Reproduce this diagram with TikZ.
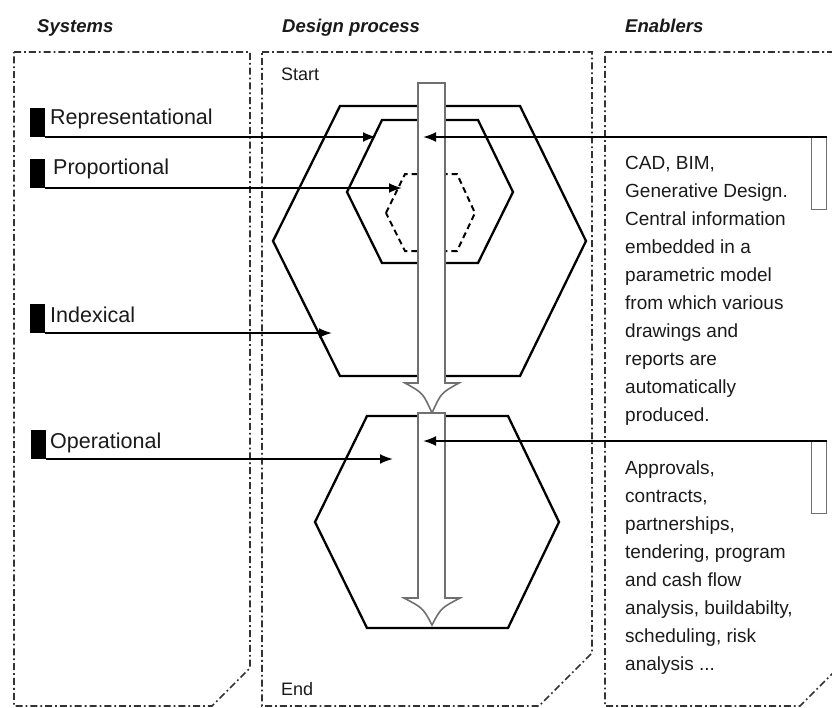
\documentclass[tikz,border=0pt]{standalone}
\usepackage{fontspec}
\setmainfont{Liberation Sans}
\usetikzlibrary{arrows.meta}
\definecolor{ink}{HTML}{1A1A1A}
\definecolor{frame}{HTML}{333333}
\definecolor{shaft}{HTML}{707070}
\begin{document}
\begin{tikzpicture}[x=1pt,y=-1pt,
  panel/.style={draw=frame, line width=1.6pt, dash pattern=on 7pt off 3pt on 1.8pt off 3pt},
  hexline/.style={draw=black, line width=2.3pt, line join=miter},
  dashhex/.style={hexline, line width=2pt, dash pattern=on 6pt off 4pt},
  flow/.style={draw=shaft, line width=1.6pt, fill=white, line join=miter},
  conn/.style={draw=black, line width=2pt, -{Latex[length=13pt,width=10pt]}},
  marker/.style={fill=black, draw=none, minimum width=15pt, minimum height=29pt, inner sep=0pt, anchor=south west},
  tab/.style={draw=shaft, line width=1.3pt, fill=white, minimum width=15pt, minimum height=72pt, inner sep=0pt, anchor=north east},
  heading/.style={font=\fontsize{18.5}{22}\selectfont\bfseries\itshape, text=ink, inner sep=0pt, anchor=base west},
  label/.style={font=\fontsize{21.5}{24}\selectfont, text=ink, inner sep=0pt, anchor=base west},
  endpoint/.style={font=\fontsize{18}{22}\selectfont, text=ink, inner sep=0pt, anchor=base west},
  note/.style={font=\fontsize{19}{28}\selectfont, text=ink, inner sep=0pt, anchor=north west, align=left},
  ]
\useasboundingbox (0,0) rectangle (832,707);
\clip (0,0) rectangle (832,707);

% column frames with cut bottom-right corners
\draw[panel] (14,52) -- (250,52) -- (250,668) -- (212,706) -- (14,706) -- cycle;
\draw[panel] (262,52) -- (592,52) -- (592,653) -- (539,706) -- (262,706) -- cycle;
\draw[panel] (605,52) -- (842,52) -- (842,664) -- (800,706) -- (605,706) -- cycle;

% headings
\node[heading] (hsys) at (37,32) {Systems};
\node[heading] (hdes) at (282,32) {Design process};
\node[heading] (hena) at (625,32) {Enablers};

% start / end
\node[endpoint] (start) at (281,80) {Start};
\node[endpoint] (end) at (281,695) {End};

% design stages
\draw[hexline] (273,241) -- (340,106) -- (520,106) -- (586,241) -- (520,376) -- (340,376) -- cycle;
\draw[hexline] (347,192) -- (382,120) -- (478,120) -- (513,192) -- (478,263) -- (382,263) -- cycle;
\draw[dashhex] (386,213) -- (405,174) -- (457,174) -- (475,213) -- (457,251) -- (405,251) -- cycle;
\draw[hexline] (315,522) -- (367,416) -- (508,416) -- (559,522) -- (508,628) -- (367,628) -- cycle;

% process flow arrows
\draw[flow] (418,83) -- (445,83) -- (445,383) -- (459,383)
  .. controls (441,393) .. (432,413) .. controls (423,393) .. (405,383)
  -- (418,383) -- cycle;
\draw[flow] (418,413) -- (445,413) -- (445,598) -- (460,598)
  .. controls (441,608) .. (432,625) .. controls (423,608) .. (404,598)
  -- (418,598) -- cycle;

% systems
\node[marker] (repmark) at (30,137) {};
\node[marker] (promark) at (30,188) {};
\node[marker] (idxmark) at (30,333) {};
\node[marker] (opmark) at (31,459) {};
\node[label] (replab) at (50,124) {Representational};
\node[label] (prolab) at (53,174) {Proportional};
\node[label] (idxlab) at (50,322) {Indexical};
\node[label] (oplab) at (50,448) {Operational};
\coordinate (reptip) at (376,137);
\coordinate (protip) at (402,188);
\coordinate (idxtip) at (332,333);
\coordinate (optip) at (393,459);
\draw[conn] (repmark.south east) -- (reptip);
\draw[conn] (promark.south east) -- (protip);
\draw[conn] (idxmark.south east) -- (idxtip);
\draw[conn] (opmark.south east) -- (optip);

% enablers
\node[tab] (cadtab) at (827,137) {};
\node[tab] (apptab) at (827,441) {};
\coordinate (cadtip) at (423,137);
\coordinate (apptip) at (423,441);
\draw[conn] (cadtab.north east) -- (cadtip);
\draw[conn] (apptab.north east) -- (apptip);

\node[note] (cadtext) at (625,156) {CAD, BIM,\\Generative Design.\\Central information\\embedded in a\\parametric model\\from which various\\drawings and\\reports are\\automatically\\produced.};
\node[note] (apptext) at (625,461) {Approvals,\\contracts,\\partnerships,\\tendering, program\\and cash flow\\analysis, buildabilty,\\scheduling, risk\\analysis ...};
\end{tikzpicture}
\end{document}
